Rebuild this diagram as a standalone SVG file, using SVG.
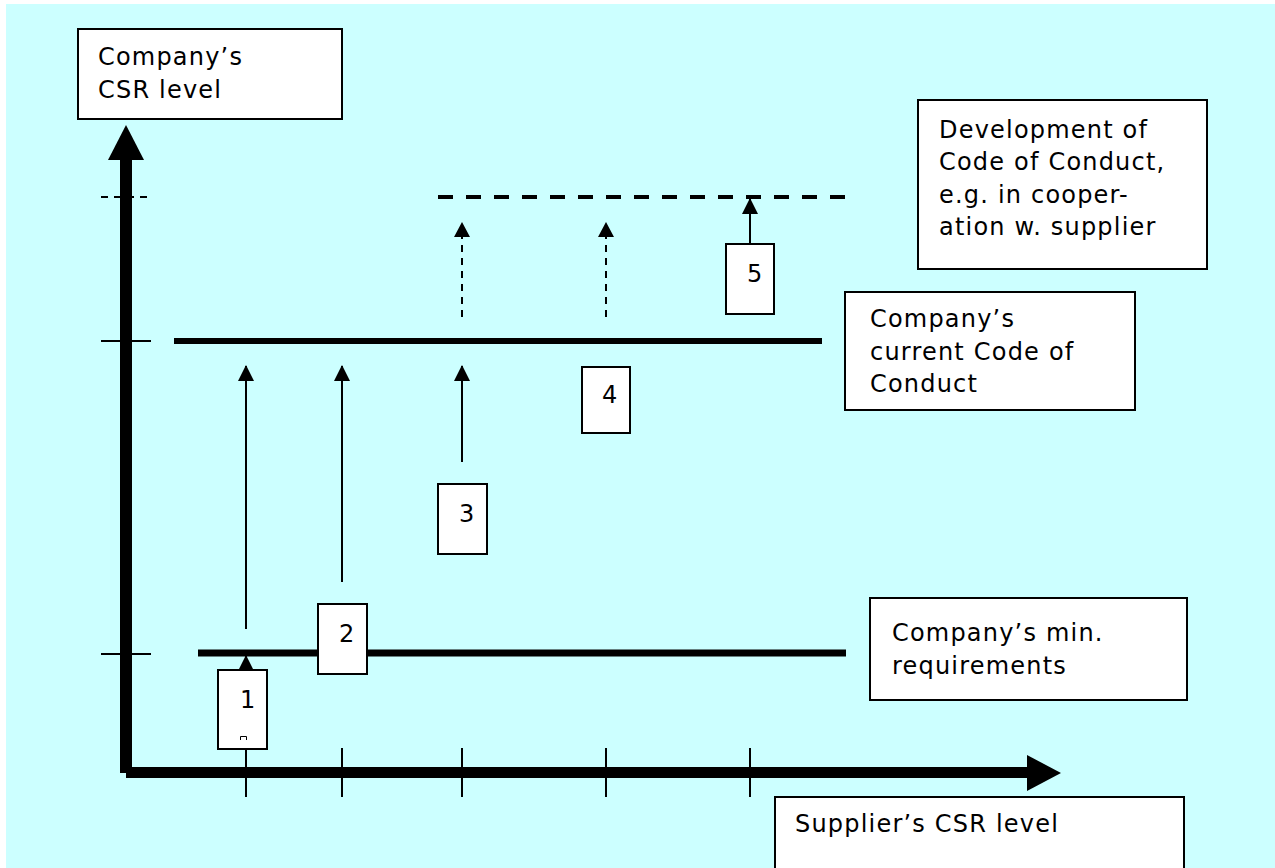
<svg xmlns="http://www.w3.org/2000/svg" width="1275" height="868" viewBox="0 0 1275 868">
<style>
.box{fill:#fff;stroke:#000;stroke-width:2}
.t{font-family:"DejaVu Sans","Verdana",sans-serif;font-size:24px;letter-spacing:1.2px;fill:#000}
.thin{stroke:#000;stroke-width:2;fill:none}
.dsh{stroke:#000;stroke-width:2;fill:none;stroke-dasharray:7 6}
.lvl{stroke:#000;stroke-width:7;fill:none}
</style>
<defs>
<marker id="ah" markerUnits="userSpaceOnUse" markerWidth="16" markerHeight="16" viewBox="0 0 16 16" refX="15" refY="8" orient="auto">
<path d="M0,0 L16,8 L0,16 Z" fill="#000"/>
</marker>
</defs>
<rect x="0" y="0" width="1275" height="868" fill="#fff"/>
<rect x="6" y="4" width="1269" height="864" fill="#CCFFFF"/>

<g id="axes">
<rect x="120" y="158" width="12" height="615" fill="#000"/>
<polygon points="126,125 144,160 108,160" fill="#000"/>
<rect x="126" y="767" width="903" height="11" fill="#000"/>
<polygon points="1027,755 1061,773 1027,791" fill="#000"/>
<line x1="101" y1="197" x2="151" y2="197" class="dsh" stroke-dasharray="7 7"/>
<line x1="101" y1="341" x2="151" y2="341" class="thin"/>
<line x1="101" y1="654" x2="151" y2="654" class="thin"/>
<line x1="246" y1="749" x2="246" y2="797" class="thin"/>
<line x1="342" y1="748" x2="342" y2="797" class="thin"/>
<line x1="462" y1="748" x2="462" y2="797" class="thin"/>
<line x1="606" y1="748" x2="606" y2="797" class="thin"/>
<line x1="750" y1="748" x2="750" y2="797" class="thin"/>
</g>

<g id="levels">
<line x1="438" y1="197" x2="846" y2="197" stroke="#000" stroke-width="4" stroke-dasharray="15 13"/>
<line x1="174" y1="341" x2="822" y2="341" stroke="#000" stroke-width="6"/>
<line x1="198" y1="653" x2="846" y2="653" class="lvl"/>
</g>

<g id="connectors">
<line x1="246" y1="629" x2="246" y2="366" class="thin" marker-end="url(#ah)"/>
<line x1="342" y1="582" x2="342" y2="366" class="thin" marker-end="url(#ah)"/>
<line x1="462" y1="462" x2="462" y2="366" class="thin" marker-end="url(#ah)"/>
<line x1="462" y1="317" x2="462" y2="237" class="dsh"/>
<polygon points="462,222 470,237 454,237" fill="#000"/>
<line x1="606" y1="317" x2="606" y2="237" class="dsh"/>
<polygon points="606,222 614,237 598,237" fill="#000"/>
<line x1="750" y1="244" x2="750" y2="199" class="thin" marker-end="url(#ah)"/>
<line x1="246" y1="670" x2="246" y2="656" class="thin" marker-end="url(#ah)"/>
</g>

<g id="node-company-csr">
<rect x="78" y="29" width="264" height="90" class="box"/>
<text class="t" x="98" y="65">Company’s</text>
<text class="t" x="98" y="98">CSR level</text>
</g>

<g id="node-development">
<rect x="918" y="100" width="289" height="169" class="box"/>
<text class="t" x="939" y="138">Development of</text>
<text class="t" x="939" y="170">Code of Conduct,</text>
<text class="t" x="939" y="203">e.g. in cooper-</text>
<text class="t" x="939" y="235">ation w. supplier</text>
</g>

<g id="node-current-coc">
<rect x="845" y="292" width="290" height="118" class="box"/>
<text class="t" x="870" y="327">Company’s</text>
<text class="t" x="870" y="360">current Code of</text>
<text class="t" x="870" y="392">Conduct</text>
</g>

<g id="node-min-req">
<rect x="870" y="598" width="317" height="102" class="box"/>
<text class="t" x="892" y="641">Company’s min.</text>
<text class="t" x="892" y="674">requirements</text>
</g>

<g id="node-supplier-csr">
<rect x="775" y="797" width="409" height="80" class="box"/>
<text class="t" x="795" y="832">Supplier’s CSR level</text>
</g>

<g id="node-1">
<rect x="218" y="670" width="49" height="79" class="box"/>
<text class="t" x="240" y="708">1</text>
<path d="M240.5,740 V736.5 H246.5 V740" fill="none" stroke="#000" stroke-width="1"/>
</g>
<g id="node-2">
<rect x="318" y="604" width="49" height="70" class="box"/>
<text class="t" x="339" y="642">2</text>
</g>
<g id="node-3">
<rect x="438" y="484" width="49" height="70" class="box"/>
<text class="t" x="459" y="522">3</text>
</g>
<g id="node-4">
<rect x="582" y="367" width="48" height="66" class="box"/>
<text class="t" x="602" y="403">4</text>
</g>
<g id="node-5">
<rect x="726" y="244" width="48" height="70" class="box"/>
<text class="t" x="747" y="282">5</text>
</g>
</svg>
